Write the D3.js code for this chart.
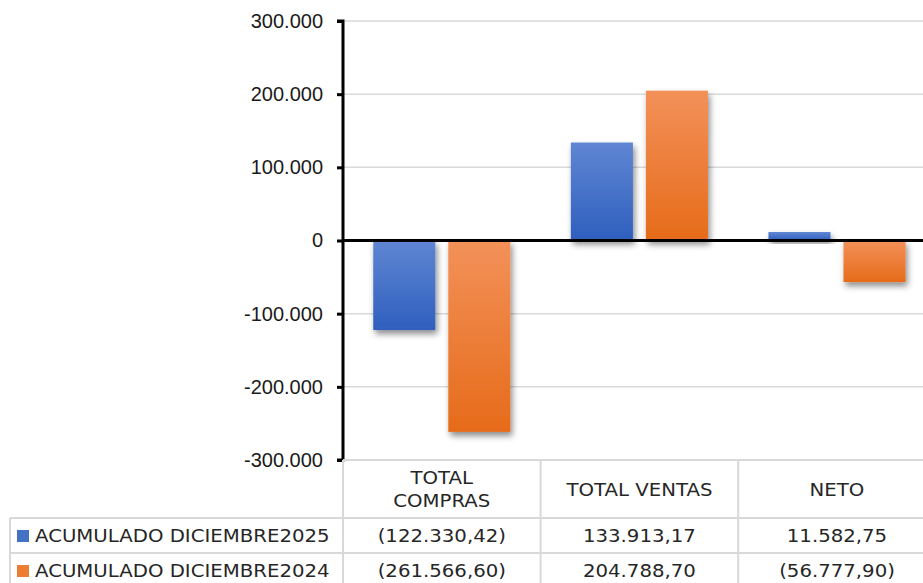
<!DOCTYPE html>
<html>
<head>
<meta charset="utf-8">
<script src="https://cdn.jsdelivr.net/npm/d3@7"></script>
<style>
  html, body { margin: 0; padding: 0; background: #ffffff; }
  svg { display: block; }
</style>
</head>
<body>
<svg id="chart" width="923" height="583"></svg>
<script>
const categories = ["TOTAL COMPRAS", "TOTAL VENTAS", "NETO"];
const categoryLines = [["TOTAL", "COMPRAS"], ["TOTAL VENTAS"], ["NETO"]];
const seriesNames = ["ACUMULADO DICIEMBRE2025", "ACUMULADO DICIEMBRE2024"];
const values2025 = [-122330.42, 133913.17, 11582.75];
const values2024 = [-261566.60, 204788.70, -56777.90];
const yTicks = [300000, 200000, 100000, 0, -100000, -200000, -300000];

(function () {
const seriesValues = [values2025, values2024];
const colors = [
  { top: "#5f86d3", bottom: "#2f5fbe", legend: "#4472c4" },
  { top: "#f39159", bottom: "#e66b1a", legend: "#ed7d31" }
];

const svg = d3.select("#chart");
const W = 923;
const plotLeft = 343, plotTop = 21, plotBottom = 460;
const catW = 197.6;

const locale = d3.formatLocale({ decimal: ",", thousands: ".", grouping: [3], currency: ["", ""], minus: "-" });
const fmtTick = locale.format(",.0f");
const fmt2 = locale.format(",.2f");
const fmtCell = v => v < 0 ? "(" + fmt2(-v) + ")" : fmt2(v);

const y = d3.scaleLinear().domain([-300000, 300000]).range([plotBottom, plotTop]);
const x0 = d3.scaleBand().domain(categories).range([plotLeft, plotLeft + catW * 3]).paddingInner(0).paddingOuter(0);
const x1 = d3.scaleBand().domain([0, 1]).range([0, x0.bandwidth()]).paddingInner(0.173).paddingOuter(0.403);

// defs
const defs = svg.append("defs");
colors.forEach((c, i) => {
  const g = defs.append("linearGradient").attr("id", "grad" + i)
    .attr("x1", 0).attr("y1", 0).attr("x2", 0).attr("y2", 1);
  g.append("stop").attr("offset", "0%").attr("stop-color", c.top);
  g.append("stop").attr("offset", "100%").attr("stop-color", c.bottom);
});
const f = defs.append("filter").attr("id", "shadow")
  .attr("x", "-30%").attr("y", "-30%").attr("width", "160%").attr("height", "160%");
f.append("feDropShadow").attr("dx", 2).attr("dy", 4).attr("stdDeviation", 3)
  .attr("flood-color", "#000").attr("flood-opacity", 0.45);

// gridlines
svg.append("g").selectAll("line").data(yTicks.filter(t => t !== 0))
  .join("line")
  .attr("x1", plotLeft).attr("x2", W)
  .attr("y1", d => y(d)).attr("y2", d => y(d))
  .attr("stroke", "#d9d9d9").attr("stroke-width", 1.5);

// bars
const gBars = svg.append("g");
categories.forEach((cat, ci) => {
  seriesValues.forEach((vals, si) => {
    const v = vals[ci];
    gBars.append("rect")
      .attr("x", x0(cat) + x1(si))
      .attr("width", x1.bandwidth())
      .attr("y", Math.min(y(v), y(0)))
      .attr("height", Math.abs(y(v) - y(0)))
      .attr("fill", "url(#grad" + si + ")")
      .attr("filter", "url(#shadow)");
  });
});

// zero line
svg.append("line")
  .attr("x1", plotLeft).attr("x2", W).attr("y1", y(0)).attr("y2", y(0))
  .attr("stroke", "#000").attr("stroke-width", 3);

// y axis
const yAxis = d3.axisLeft(y).tickValues(yTicks).tickFormat(fmtTick).tickSize(6).tickPadding(14);
const gy = svg.append("g").attr("transform", `translate(${plotLeft},0)`).call(yAxis);
gy.select(".domain").attr("stroke", "#000").attr("stroke-width", 3)
  .attr("d", `M-6,${y(300000)}H0V${y(-300000)}H-6`);
gy.selectAll(".tick line").attr("stroke", "#000").attr("stroke-width", 3);
gy.selectAll(".tick text")
  .attr("font-family", "'Liberation Sans', Arial, sans-serif")
  .attr("font-size", "20px").attr("fill", "#1a1a1a");

// data table
const tableFont = "'DejaVu Sans', sans-serif";
const grid = svg.append("g").attr("stroke", "#d9d9d9").attr("stroke-width", 2);
const colEdges = [plotLeft, plotLeft + catW, plotLeft + 2 * catW, plotLeft + 3 * catW];
const row1 = 518, row2 = 553, tableBottom = 590;
grid.append("line").attr("x1", plotLeft).attr("x2", W).attr("y1", plotBottom).attr("y2", plotBottom);
[row1, row2].forEach(r => grid.append("line").attr("x1", 10).attr("x2", W).attr("y1", r).attr("y2", r));
grid.append("line").attr("x1", 10).attr("x2", 10).attr("y1", row1).attr("y2", tableBottom);
colEdges.forEach(cx => grid.append("line").attr("x1", cx).attr("x2", cx).attr("y1", plotBottom).attr("y2", tableBottom));

const sx = 1.16;
const gText = svg.append("g").attr("font-family", tableFont).attr("font-size", "17px").attr("fill", "#262626");
const addText = (tx, ty, str, anchor) => gText.append("text")
  .attr("transform", `translate(${tx},${ty}) scale(${sx},1)`)
  .attr("text-anchor", anchor).text(str);

categories.forEach((cat, ci) => {
  const cx = x0(cat) + x0.bandwidth() / 2;
  const lines = categoryLines[ci];
  const startY = lines.length === 1 ? 496 : 484;
  lines.forEach((ln, li) => addText(cx, startY + li * 23, ln, "middle"));
  seriesValues.forEach((vals, si) => addText(cx, si === 0 ? 542 : 577, fmtCell(vals[ci]), "middle"));
});
seriesNames.forEach((name, si) => {
  const ry = si === 0 ? 542 : 577;
  svg.append("rect").attr("x", 17).attr("y", ry - 12).attr("width", 12).attr("height", 12)
    .attr("fill", colors[si].legend);
  addText(35, ry, name, "start");
});
})();
</script>
</body>
</html>
